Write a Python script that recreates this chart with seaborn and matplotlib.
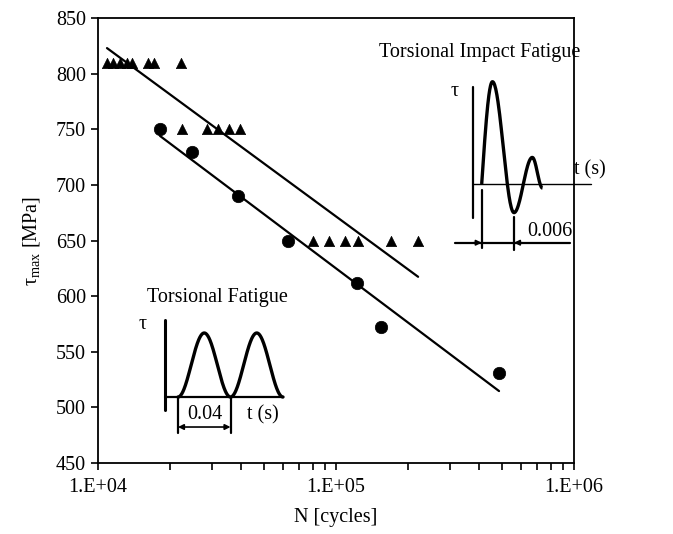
import numpy as np
import pandas as pd
import matplotlib
matplotlib.use("Agg")
import matplotlib.pyplot as plt
import seaborn as sns

# ---- data ----
impact_N = [10910, 11560, 12370, 13240, 13900, 16220, 17190, 22320,
            22540, 28710, 31920, 35500, 39540,
            80000, 93550, 109200, 123600, 170200, 221300]
impact_tau = [810, 810, 810, 810, 810, 810, 810, 810,
              750, 750, 750, 750, 750,
              650, 650, 650, 650, 650, 650]

fatigue_N = [18220, 24830, 38730, 62810, 122500, 154600, 484200]
fatigue_tau = [750, 730, 690, 650, 612, 572, 531]

x_ticks = [1e4, 1e5, 1e6]
x_tick_labels = ["1.E+04", "1.E+05", "1.E+06"]
y_ticks = [450, 500, 550, 600, 650, 700, 750, 800, 850]

impact_df = pd.DataFrame({"N": impact_N, "tau": impact_tau})
fatigue_df = pd.DataFrame({"N": fatigue_N, "tau": fatigue_tau})

sns.set_style("ticks")
plt.rcParams["font.family"] = ["Liberation Serif", "DejaVu Serif"]
plt.rcParams["mathtext.fontset"] = "custom"
plt.rcParams["mathtext.rm"] = "Liberation Serif"
plt.rcParams["mathtext.it"] = "Liberation Serif:italic"
for key in ["text.color", "axes.labelcolor", "xtick.color", "ytick.color",
            "axes.edgecolor"]:
    plt.rcParams[key] = "black"
FS = 14.5

W, H = 673, 534
fig = plt.figure(figsize=(W / 100, H / 100), dpi=100)
ax = fig.add_axes([98 / W, 1 - 463 / H, (574 - 98) / W, (463 - 18) / H])

sns.regplot(data=impact_df, x="N", y="tau", logx=True, ci=None, scatter=False,
            color="black", line_kws={"lw": 1.6}, ax=ax, truncate=True)
sns.regplot(data=fatigue_df, x="N", y="tau", logx=True, ci=None, scatter=False,
            color="black", line_kws={"lw": 1.6}, ax=ax, truncate=True)
sns.scatterplot(data=impact_df, x="N", y="tau", marker="^", s=55, color="black",
                edgecolor="black", linewidth=0.5, ax=ax, zorder=3)
sns.scatterplot(data=fatigue_df, x="N", y="tau", marker="o", s=80, color="black",
                edgecolor="black", linewidth=0.5, ax=ax, zorder=3)

ax.set_xscale("log")
ax.set_xlim(1e4, 1e6)
ax.set_ylim(450, 850)
ax.set_xticks(x_ticks, labels=x_tick_labels)
ax.set_yticks(y_ticks)
ax.tick_params(axis="both", which="major", direction="out", length=5, width=1.2,
               labelsize=FS, color="black", labelcolor="black")
ax.tick_params(axis="x", which="minor", direction="out", length=5, width=1.2,
               color="black")
ax.tick_params(axis="x", which="both", pad=6)
for sp in ax.spines.values():
    sp.set_visible(True)
    sp.set_linewidth(1.3)
    sp.set_color("black")
ax.set_xlabel("N [cycles]", fontsize=FS, labelpad=8, color="black")
ax.set_ylabel(r"τ$_{\mathrm{max}}$ [MPa]", fontsize=FS, labelpad=10, color="black")


def inset(l, t, r, b):
    a = fig.add_axes([l / W, 1 - b / H, (r - l) / W, (b - t) / H])
    a.set_axis_off()
    a.patch.set_alpha(0)
    return a


# ---- Torsional Impact Fatigue schematic (time in s, tau normalised) ----
ai = inset(430, 30, 620, 270)
ai.set_xlim(-0.009604, 0.025692)
ai.set_ylim(-0.8407, 1.5054)
# wave extrema (t, tau)
imp_t = [0.0, 0.0020, 0.0060, 0.0094, 0.0113]
imp_v = [0.0, 1.0, -0.28, 0.26, -0.04]
segs_t, segs_v = [], []
for k in range(len(imp_t) - 1):
    u = np.linspace(0, 1, 40)
    if k == 0:
        w = np.sin(u * np.pi / 2)
    else:
        w = (1 - np.cos(u * np.pi)) / 2
    segs_t.append(imp_t[k] + (imp_t[k + 1] - imp_t[k]) * u)
    segs_v.append(imp_v[k] + (imp_v[k + 1] - imp_v[k]) * w)
ai.plot(np.concatenate(segs_t), np.concatenate(segs_v), color="black", lw=2.4,
        solid_capstyle="butt")
ai.plot([-0.00167, -0.00167], [-0.332, 0.948], color="black", lw=1.6)
ai.plot([-0.00167, 0.02025], [0, 0], color="black", lw=1.0)
ai.plot([0, 0], [-0.626, -0.059], color="black", lw=1.6)
ai.plot([0.006, 0.006], [-0.645, -0.32], color="black", lw=1.6)
ai.plot([-0.00496, 0.0164], [-0.574, -0.574], color="black", lw=1.6)
ai.annotate("", xy=(0, -0.574), xytext=(-0.0015, -0.574),
            arrowprops=dict(arrowstyle="-|>", color="black", lw=1.2,
                            mutation_scale=8, shrinkA=0, shrinkB=0))
ai.annotate("", xy=(0.006, -0.574), xytext=(0.0075, -0.574),
            arrowprops=dict(arrowstyle="-|>", color="black", lw=1.2,
                            mutation_scale=8, shrinkA=0, shrinkB=0))
ai.text(-0.00041, 1.29, "Torsional Impact Fatigue", fontsize=FS, ha="center",
        va="center", color="black")
ai.text(-0.00496, 0.90, "τ", fontsize=FS, ha="center", va="center", color="black")
ai.text(0.0201, 0.137, "t (s)", fontsize=FS, ha="center", va="center", color="black")
ai.text(0.0127, -0.469, "0.006", fontsize=FS, ha="center", va="center", color="black")

# ---- Torsional Fatigue schematic ----
af = inset(120, 280, 300, 445)
af.set_xlim(-0.04419, 0.09295)
af.set_ylim(-0.75, 1.828)
period = 0.04
tt = np.linspace(0, 2 * period, 300)
af.plot(tt, (1 - np.cos(2 * np.pi * tt / period)) / 2, color="black", lw=2.4)
af.plot([-0.0099, -0.0099], [-0.203, 1.203], color="black", lw=2.2)
af.plot([-0.0099, 0.08], [0, 0], color="black", lw=1.6)
af.plot([0, 0], [-0.5625, -0.016], color="black", lw=1.6)
af.plot([0.04, 0.04], [-0.5625, -0.016], color="black", lw=1.6)
af.annotate("", xy=(0, -0.469), xytext=(0.04, -0.469),
            arrowprops=dict(arrowstyle="<|-|>", color="black", lw=1.2,
                            mutation_scale=8, shrinkA=0, shrinkB=0))
af.text(0.0297, 1.547, "Torsional Fatigue", fontsize=FS, ha="center", va="center",
        color="black")
af.text(-0.0267, 1.125, "τ", fontsize=FS, ha="center", va="center", color="black")
af.text(0.0206, -0.28, "0.04", fontsize=FS, ha="center", va="center", color="black")
af.text(0.0648, -0.28, "t (s)", fontsize=FS, ha="center", va="center", color="black")

fig.savefig("out.png", dpi=100)
